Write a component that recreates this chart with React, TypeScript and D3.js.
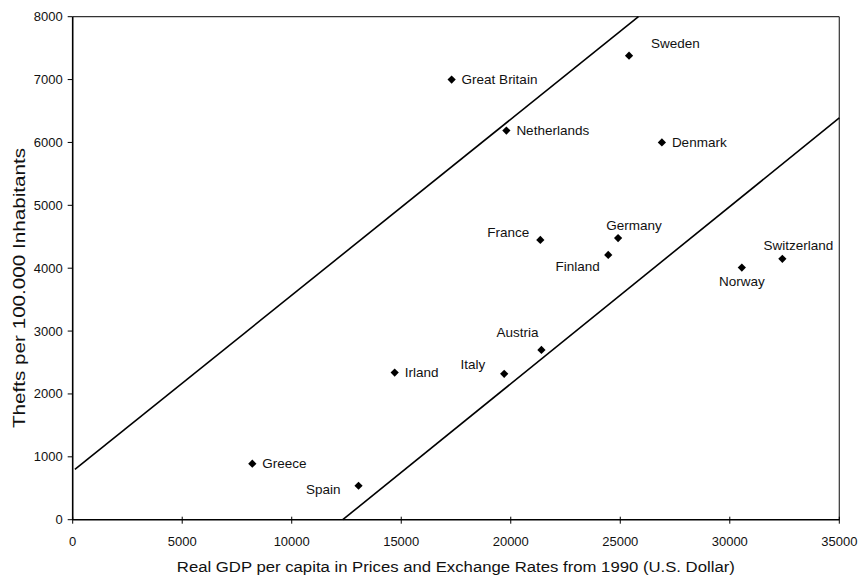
import React from "react";
import * as d3 from "d3";

// Countries with GDP per capita (USD, 1990 prices) and thefts per 100.000 inhabitants
const countries = [
  "Great Britain", "Sweden", "Netherlands", "Denmark", "France", "Germany",
  "Finland", "Switzerland", "Norway", "Austria", "Italy", "Irland", "Greece", "Spain",
];
const gdp = [17300, 25400, 19800, 26900, 21350, 24900, 24450, 32400, 30550, 21400, 19700, 14700, 8200, 13050];
const thefts = [7000, 7380, 6190, 6000, 4450, 4480, 4210, 4150, 4010, 2700, 2320, 2340, 890, 540];
// label placement relative to marker
const labelSide = ["right", "above-right", "right", "right", "left", "above", "below-left", "above", "below", "above-left", "left-high", "right", "right", "left-low"];

// the two parallel boundary lines [x1, y1, x2, y2]
const upperLine = [100, 800, 25830, 8000];
const lowerLine = [12330, 0, 35000, 6390];

const xTicks = [0, 5000, 10000, 15000, 20000, 25000, 30000, 35000];
const yTicks = [0, 1000, 2000, 3000, 4000, 5000, 6000, 7000, 8000];

const W = 861;
const H = 579;
const margin = { left: 72.7, right: 21.7, top: 16.7, bottom: 59.3 };

export default function App() {
  const x = d3.scaleLinear().domain([0, 35000]).range([margin.left, W - margin.right]);
  const y = d3.scaleLinear().domain([0, 8000]).range([H - margin.bottom, margin.top]);
  const diamond = d3.symbol().type(d3.symbolSquare).size(34)();
  const font = "Arial, 'Liberation Sans', Helvetica, sans-serif";

  const labelPos = (side: string, px: number, py: number) => {
    switch (side) {
      case "right":
        return { x: px + 10, y: py + 4.5, anchor: "start" };
      case "left":
        return { x: px - 11, y: py - 2.5, anchor: "end" };
      case "left-low":
        return { x: px - 18, y: py + 8, anchor: "end" };
      case "left-high":
        return { x: px - 19, y: py - 4.5, anchor: "end" };
      case "above-right":
        return { x: px + 22, y: py - 7.5, anchor: "start" };
      case "above":
        return { x: px + 16, y: py - 8.5, anchor: "middle" };
      case "above-left":
        return { x: px - 24, y: py - 13, anchor: "middle" };
      case "below":
        return { x: px, y: py + 18, anchor: "middle" };
      case "below-left":
        return { x: px - 8.5, y: py + 16.5, anchor: "end" };
      default:
        return { x: px + 10, y: py + 4.5, anchor: "start" };
    }
  };

  const [x0, x1] = x.range();
  const [y0, y1] = y.range();

  return (
    <svg width={W} height={H} style={{ position: "absolute", left: 0, top: 0, background: "#fff" }} fontFamily={font}>
      {/* frame */}
      <line x1={x0} x2={x1} y1={y1} y2={y1} stroke="#333" strokeWidth={1.2} />
      <line x1={x1} x2={x1} y1={y1} y2={y0} stroke="#333" strokeWidth={1.2} />
      {/* axes */}
      <line x1={x0} x2={x1} y1={y0} y2={y0} stroke="#000" strokeWidth={1.6} />
      <line x1={x0} x2={x0} y1={y1} y2={y0} stroke="#000" strokeWidth={1.6} />

      {xTicks.map((t) => (
        <g key={"x" + t}>
          <line x1={x(t)} x2={x(t)} y1={y0 - 3} y2={y0 + 4} stroke="#000" strokeWidth={1} />
          <text x={x(t)} y={y0 + 26} textAnchor="middle" fontSize={13} fill="#111">{t}</text>
        </g>
      ))}
      {yTicks.map((t) => (
        <g key={"y" + t}>
          <line x1={x0 - 5} x2={x0} y1={y(t)} y2={y(t)} stroke="#000" strokeWidth={1} />
          <text x={x0 - 10} y={y(t) + 4.5} textAnchor="end" fontSize={13} fill="#111">{t}</text>
        </g>
      ))}

      {/* boundary lines */}
      {[upperLine, lowerLine].map((l, i) => (
        <line key={"l" + i} x1={x(l[0])} y1={y(l[1])} x2={x(l[2])} y2={y(l[3])} stroke="#000" strokeWidth={1.6} />
      ))}

      {countries.map((c, i) => {
        const px = x(gdp[i]);
        const py = y(thefts[i]);
        const lp = labelPos(labelSide[i], px, py);
        return (
          <g key={c}>
            <path d={diamond} transform={`translate(${px},${py}) rotate(45)`} fill="#000" />
            <text x={lp.x} y={lp.y} textAnchor={lp.anchor} fontSize={13.5} fill="#111">{c}</text>
          </g>
        );
      })}

      <text x={(176.7 + 735) / 2} y={572} textAnchor="middle" fontSize={15.5} fill="#111"
        textLength={558} lengthAdjust="spacingAndGlyphs">
        Real GDP per capita in Prices and Exchange Rates from 1990 (U.S. Dollar)
      </text>
      <text transform={`translate(24.5,288) rotate(-90)`} textAnchor="middle" fontSize={16} fill="#111"
        textLength={280} lengthAdjust="spacingAndGlyphs">
        Thefts per 100.000 Inhabitants
      </text>
    </svg>
  );
}
